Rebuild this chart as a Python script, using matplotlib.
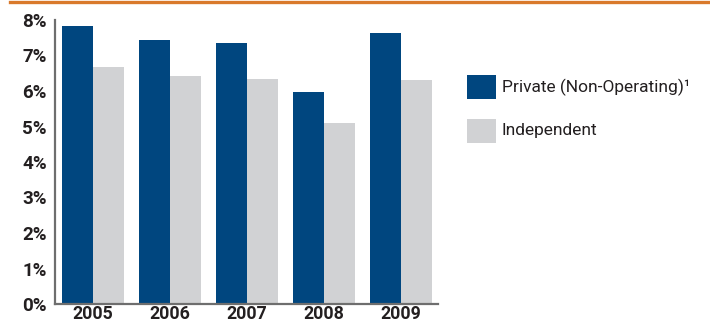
import matplotlib
matplotlib.use("Agg")
import matplotlib.pyplot as plt
from matplotlib.patches import Rectangle
from matplotlib.lines import Line2D
import numpy as np

years = ["2005", "2006", "2007", "2008", "2009"]
private = [7.82, 7.44, 7.36, 5.96, 7.64]
independent = [6.69, 6.41, 6.35, 5.09, 6.32]
series_names = ["Private (Non-Operating)\u00b9", "Independent"]
yticks = [0, 1, 2, 3, 4, 5, 6, 7, 8]
ytick_labels = [f"{v}%" for v in yticks]

BLUE = "#00467F"
GRAY = "#D1D2D4"
ORANGE = "#D9792B"
AXIS = "#6E6E6E"
TXT = "#231F20"

W, H = 710, 325
fig = plt.figure(figsize=(W / 100, H / 100), dpi=100)

def fx(px):
    return px / W

def fy(py):
    return 1 - py / H

ax = fig.add_axes([fx(55), fy(304), fx(438) - fx(55), fy(20) - fy(304)])
x = np.arange(len(years))
bw = 0.40
ax.bar(x - bw / 2, private, bw, color=BLUE, linewidth=0)
ax.bar(x + bw / 2, independent, bw, color=GRAY, linewidth=0)
ax.set_xlim(-0.49, 4.48)
ax.set_ylim(0, 8)
ax.set_yticks(yticks)
ax.set_yticklabels(ytick_labels)
ax.set_xticks(x)
ax.set_xticklabels(years)
for s in ["top", "right"]:
    ax.spines[s].set_visible(False)
for s in ["left", "bottom"]:
    ax.spines[s].set_color(AXIS)
    ax.spines[s].set_linewidth(1.6)
ax.tick_params(axis="both", length=0, colors=TXT)
ax.tick_params(axis="y", pad=6)
ax.tick_params(axis="x", pad=0.5)
for lab in ax.get_yticklabels():
    lab.set_fontsize(13.5)
for lab in ax.get_xticklabels():
    lab.set_fontsize(12.8)
for lab in ax.get_yticklabels() + ax.get_xticklabels():
    lab.set_fontfamily("Roboto")
    lab.set_fontweight("bold")
    lab.set_color(TXT)

# top orange rule
fig.add_artist(Line2D([fx(10), 1], [fy(1.5), fy(1.5)], color=ORANGE, linewidth=2.4,
                      transform=fig.transFigure))

# legend
colors = [BLUE, GRAY]
tops = [75, 119]
for name, c, t in zip(series_names, colors, tops):
    fig.add_artist(Rectangle((fx(467), fy(t + 24)), fx(29), fy(t) - fy(t + 24),
                             color=c, linewidth=0, transform=fig.transFigure))
    fig.text(fx(502), fy(t + 12), name, fontsize=12.5, family="Roboto",
             color=TXT, va="center", ha="left")

fig.savefig("out.png", dpi=100)
